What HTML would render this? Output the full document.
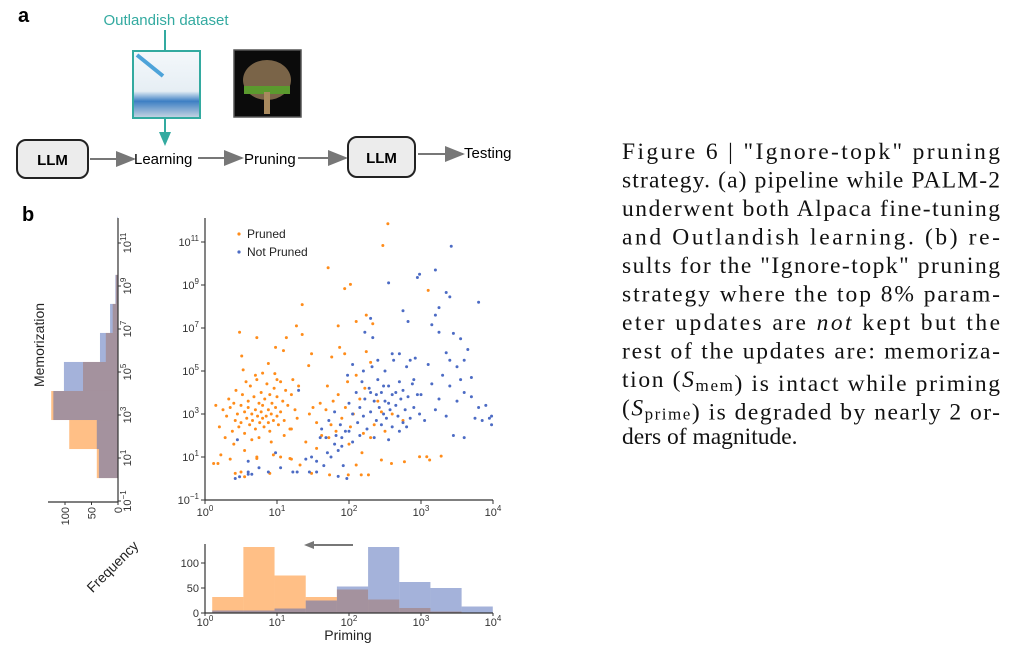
<!DOCTYPE html>
<html><head><meta charset="utf-8"><style>
html,body{margin:0;padding:0;background:#fff;}
svg{display:block;font-family:"Liberation Sans",sans-serif;}
</style></head><body>
<svg id="fig" width="1024" height="650" viewBox="0 0 1024 650" xmlns="http://www.w3.org/2000/svg">
<defs>
<marker id="ah" markerWidth="10" markerHeight="8" refX="9" refY="4" orient="auto"><path d="M0,0 L10,4 L0,8 z" fill="#777"/></marker>
<linearGradient id="beaker" x1="0" y1="0" x2="0" y2="1"><stop offset="0" stop-color="#f4f8fb"/><stop offset="0.6" stop-color="#e6eef4"/><stop offset="0.75" stop-color="#3d7fc4"/><stop offset="1" stop-color="#c9d6e2"/></linearGradient>
</defs>
<g>
<text x="18" y="22" font-size="20" font-weight="bold">a</text>
<text x="166" y="25" font-size="15" fill="#33aaa0" text-anchor="middle">Outlandish dataset</text>
<line x1="165" y1="30" x2="165" y2="51" stroke="#33aaa0" stroke-width="2"/>
<rect x="133" y="51" width="67" height="67" fill="url(#beaker)" stroke="#33aaa0" stroke-width="2"/>
<line x1="137" y1="55" x2="163" y2="76" stroke="#4da3d9" stroke-width="4"/>
<line x1="165" y1="118" x2="165" y2="134" stroke="#33aaa0" stroke-width="2"/>
<path d="M159,132 L171,132 L165,146 z" fill="#33aaa0"/>
<rect x="234" y="50" width="67" height="67" fill="#0b0b0b" stroke="#555" stroke-width="1.5"/>
<ellipse cx="267" cy="80" rx="24" ry="20" fill="#7a6448"/>
<rect x="244" y="86" width="46" height="8" fill="#5b9a2e"/>
<rect x="264" y="92" width="6" height="22" fill="#a98a5e"/>
<rect x="17" y="140" width="71" height="38" rx="9" fill="#ececec" stroke="#222" stroke-width="2"/>
<text x="52.5" y="165" font-size="15" font-weight="bold" text-anchor="middle">LLM</text>
<line x1="90" y1="159" x2="134" y2="159" stroke="#777" stroke-width="2" marker-end="url(#ah)"/>
<text x="134" y="164" font-size="15">Learning</text>
<line x1="198" y1="158" x2="242" y2="158" stroke="#777" stroke-width="2" marker-end="url(#ah)"/>
<text x="244" y="164" font-size="15">Pruning</text>
<line x1="298" y1="158" x2="346" y2="158" stroke="#777" stroke-width="2" marker-end="url(#ah)"/>
<rect x="348" y="137" width="67" height="40" rx="9" fill="#ececec" stroke="#222" stroke-width="2"/>
<text x="381.5" y="163" font-size="15" font-weight="bold" text-anchor="middle">LLM</text>
<line x1="418" y1="154" x2="463" y2="154" stroke="#777" stroke-width="2" marker-end="url(#ah)"/>
<text x="464" y="158" font-size="15">Testing</text>
</g>
<text x="22" y="221" font-size="20" font-weight="bold">b</text>
<g id="charts"></g>
<g font-family="'Liberation Serif',serif" font-size="23.5" fill="#111" id="caption"></g>
</svg>
<script>
const memBinStart = 0.02, memBinWidth = 1.35;
const memPruned =    [40, 92, 126, 66, 23, 10, 4, 1, 0];
const memNotPruned = [36, 40, 122, 102, 34, 15, 5, 1, 1];
const primeBinStart = 0.1, primeBinWidth = 0.433;
const primePruned =    [32, 132, 75, 32, 47, 27, 10, 3, 0];
const primeNotPruned = [5, 5, 9, 25, 53, 132, 62, 50, 13];
const scatterXTicks = [0,1,2,3,4];
const scatterYTicks = [-1,1,3,5,7,9,11];
const histCountTicks = [0,50,100];
const prunedPts = [[2.54,11.85],[2.47,10.84],[1.71,9.8],[1.94,8.83],[2.02,9.03],[1.35,8.09],[3.10,8.75],[1.27,7.1],[0.48,6.8],[0.72,6.55],[1.13,6.55],[1.35,6.7],[1.85,7.1],[2.1,7.3],[2.24,7.6],[2.33,7.2],[0.51,5.7],[0.98,6.1],[1.09,5.95],[1.48,5.8],[1.76,5.65],[1.87,6.1],[1.94,5.8],[2.24,5.9],[1.44,5.25],[0.53,5.05],[0.88,5.35],[0.97,4.88],
[0.25,3.2],[0.3,2.9],[0.35,3.3],[0.38,2.2],[0.4,3.5],[0.42,2.7],[0.45,3.0],[0.47,2.4],[0.5,3.4],[0.5,2.6],[0.52,3.9],[0.55,3.1],[0.55,2.1],[0.58,2.8],[0.6,3.6],[0.6,3.3],[0.62,2.5],[0.63,4.3],[0.65,3.0],[0.66,2.7],[0.68,3.8],[0.7,3.2],[0.7,2.3],[0.72,4.6],[0.73,2.9],[0.75,3.5],[0.76,2.6],[0.78,3.1],[0.78,4.0],[0.8,2.8],[0.8,3.4],[0.82,2.4],[0.83,3.7],[0.85,2.9],[0.86,4.4],[0.88,3.2],[0.88,2.6],[0.9,3.9],[0.9,2.2],[0.92,3.0],[0.93,3.5],[0.95,2.7],[0.96,4.2],[0.98,3.3],[1.0,2.9],[1.0,3.8],[1.02,2.5],[1.05,4.5],[1.05,3.1],[1.08,3.6],[1.1,2.7],[1.12,4.1],[1.15,3.4],[1.18,2.3],[1.2,3.9],[1.22,4.6],[1.25,3.2],[1.28,2.8],[1.3,4.3],[0.2,2.4],[0.15,3.4],[0.28,1.9],[0.33,3.7],[0.43,4.1],[0.57,4.5],[0.65,1.8],[0.7,4.8],[0.75,1.9],[0.8,4.9],[0.92,1.7],[1.0,4.6],[1.1,2.0],[1.2,2.3],[0.4,1.6],[0.55,1.3],[0.35,0.9],[0.22,1.1],[0.12,0.7],[0.5,0.3],[0.95,1.1],[0.72,1.0],[1.05,1.0],[1.2,0.9],
[0.18,0.7],[0.42,0.24],[0.55,0.08],[0.72,0.93],[0.9,0.24],[1.18,0.93],[1.32,0.63],[1.48,0.24],[1.73,0.17],[1.99,0.17],[2.1,0.63],[2.17,0.17],[2.27,0.17],[2.45,0.86],[2.59,0.7],[2.77,0.78],[2.98,1.01],[3.08,1.01],[3.12,0.86],[3.28,1.04],
[1.45,3.0],[1.5,3.3],[1.55,2.6],[1.6,3.5],[1.62,2.0],[1.68,3.2],[1.7,4.3],[1.75,2.5],[1.78,3.6],[1.82,2.2],[1.85,3.9],[1.9,2.8],[1.95,3.3],[1.98,4.5],[2.02,2.4],[2.06,3.0],[2.1,4.8],[2.15,3.7],[2.2,2.1],[2.22,4.2],[2.3,5.4],[2.35,2.5],[2.4,3.6],[2.5,2.2],[2.6,3.0],[2.75,2.7],[1.4,1.7],[1.55,1.4],[1.72,1.9],[2.0,1.6],[2.18,1.2],[2.3,1.9],[2.45,3.1]];
const notPrunedPts = [[3.42,10.8],[3.2,9.7],[2.95,9.35],[2.98,9.5],[2.55,9.1],[3.35,8.65],[3.4,8.45],[3.8,8.2],[2.75,7.8],[3.25,7.95],[3.2,7.6],[2.82,7.3],[3.15,7.15],[3.25,6.8],[3.45,6.75],[3.55,6.5],[3.65,6.0],[3.35,5.85],[2.3,7.45],[2.22,6.8],[2.33,6.55],
[3.5,5.2],[3.6,5.5],[3.7,4.7],[3.4,4.3],[3.6,4.0],[3.8,3.3],[3.9,3.4],[3.95,2.8],[3.98,2.5],[3.98,2.9],[3.85,2.7],[3.75,2.8],[3.5,3.6],[3.45,2.0],[3.6,1.9],[3.3,4.8],[3.1,5.3],[3.0,3.9],[3.15,4.4],[3.25,3.7],[3.05,2.7],[3.4,5.5],[3.55,4.6],[3.7,3.8],[3.2,3.2],[3.35,2.9],
[2.0,3.5],[2.05,3.0],[2.1,4.0],[2.12,2.6],[2.15,3.3],[2.18,4.5],[2.2,2.9],[2.22,3.7],[2.25,2.3],[2.28,4.2],[2.3,3.1],[2.32,5.2],[2.35,3.6],[2.38,2.7],[2.4,4.6],[2.42,3.3],[2.45,2.5],[2.45,4.0],[2.48,3.0],[2.5,5.0],[2.5,3.6],[2.52,2.8],[2.55,4.3],[2.57,3.2],[2.6,2.4],[2.6,3.9],[2.62,5.5],[2.65,3.4],[2.68,2.9],[2.7,4.5],[2.72,3.7],[2.75,2.6],[2.75,4.1],[2.78,3.2],[2.8,5.2],[2.82,3.8],[2.85,2.8],[2.88,4.4],[2.9,3.3],[2.92,5.6],[2.95,3.9],[2.98,3.0],[1.95,2.2],[1.98,4.8],[2.05,5.3],[2.15,2.0],[2.35,1.9],[2.55,1.8],[2.6,5.8],[2.4,5.5],[2.2,5.0],[2.7,5.8],[2.85,5.5],[2.3,4.0],[2.55,3.5],[2.65,4.0],[2.48,4.3],[2.38,3.9],[2.9,4.6],[2.8,2.4],[2.7,2.2],
[0.42,0.0],[0.48,0.08],[0.6,0.2],[0.6,0.3],[0.65,0.2],[0.45,1.8],[0.6,0.8],[0.75,0.5],[0.88,0.3],[0.98,1.2],[1.05,0.5],[1.22,0.3],[1.28,0.3],[1.45,0.3],[1.48,1.0],[1.55,0.8],[1.6,1.9],[1.65,0.6],[1.7,1.2],[1.75,1.0],[1.8,1.6],[1.82,2.0],[1.85,1.3],[1.9,1.5],[1.92,0.6],[1.97,0.0],[1.85,0.1],[1.55,0.3],[1.62,2.3],[1.68,1.9],[1.72,2.7],[1.8,3.1],[1.88,2.5],[1.9,1.9],[2.0,2.2],[2.05,1.7],[1.3,4.1],[1.4,0.9]];
const captionLines = ['Figure 6 | "Ignore-topk" pruning','strategy. (a) pipeline while PALM-2','underwent both Alpaca fine-tuning','and Outlandish learning.  (b) re-','sults for the "Ignore-topk" pruning','strategy where the top 8% param-','eter updates are <not> kept but the','rest of the updates are: memoriza-','tion (𝒮mem) is intact while priming','(𝒮prime) is degraded by nearly 2 or-','ders of magnitude.'];

const sx = l => 205 + l*72;
const sy = l => 500 - (l+1)*21.5;
const hy = c => 613 - c*0.5;
const hx = c => 118 - c*0.53;
const ORANGE='#ff7f0e', BLUE='#4a66b5';
const NS='http://www.w3.org/2000/svg';
const root=document.getElementById('charts');
function mk(tag, attrs, parent){const e=document.createElementNS(NS,tag);for(const k in attrs)e.setAttribute(k,attrs[k]);(parent||root).appendChild(e);return e;}
function pow10(parent,x,y,k,anchor,rot){
  const t=mk('text',{x:x,y:y,'font-size':11,'text-anchor':anchor,fill:'#333'},parent);
  if(rot)t.setAttribute('transform',rot);
  t.appendChild(document.createTextNode('10'));
  const s=mk('tspan',{'font-size':8,dy:-5},t);s.textContent=String(k).replace('-','−');
  return t;
}
const sc=mk('g',{});


const ax=mk('path',{d:`M${sx(0)},218 L${sx(0)},${sy(-1)} L${sx(4)},${sy(-1)}`,stroke:'#333',fill:'none','stroke-width':1.2},sc);


scatterXTicks.forEach(k=>{
  mk('line',{x1:sx(k),x2:sx(k),y1:sy(-1),y2:sy(-1)+4,stroke:'#333'},sc);
  const t=pow10(sc,sx(k),sy(-1)+16,k,'middle');
  
  
});
scatterYTicks.forEach(k=>{
  mk('line',{x1:sx(0)-4,x2:sx(0),y1:sy(k),y2:sy(k),stroke:'#333'},sc);
  const t=pow10(sc,sx(0)-6,sy(k)+4,k,'end');
  
  
});
function drawPts(pts,col,name){
  pts.forEach(p=>{
    const c=mk('circle',{cx:sx(p[0]),cy:sy(p[1]),r:1.5,fill:col},sc);
    
    
  });
}
drawPts(prunedPts,'#ff8c1a','pruned-point');
drawPts(notPrunedPts,'#4c6bc4','not-pruned-point');
const lg=mk('g',{},sc);


mk('circle',{cx:239,cy:234,r:1.6,fill:'#ff8c1a'},lg);
const l1=mk('text',{x:247,y:238,'font-size':12,fill:'#222'},lg);l1.textContent='Pruned';


mk('circle',{cx:239,cy:252,r:1.6,fill:'#4c6bc4'},lg);
const l2=mk('text',{x:247,y:256,'font-size':12,fill:'#222'},lg);l2.textContent='Not Pruned';



const bh=mk('g',{});


function primeBars(arr,col,name){
  arr.forEach((c,i)=>{
    const x0=sx(primeBinStart+i*primeBinWidth), x1=sx(primeBinStart+(i+1)*primeBinWidth);
    const r=mk('rect',{x:x0,y:hy(c),width:x1-x0,height:hy(0)-hy(c),fill:col,'fill-opacity':0.5},bh);
    
    
  });
}
primeBars(primePruned,ORANGE,'priming-bar-pruned');
primeBars(primeNotPruned,BLUE,'priming-bar-not-pruned');
mk('path',{d:`M${sx(0)},544 L${sx(0)},${hy(0)} L${sx(4)},${hy(0)}`,stroke:'#333',fill:'none','stroke-width':1.2},bh);
histCountTicks.forEach(c=>{
  mk('line',{x1:sx(0)-4,x2:sx(0),y1:hy(c),y2:hy(c),stroke:'#333'},bh);
  const t=mk('text',{x:sx(0)-6,y:hy(c)+4,'font-size':11,'text-anchor':'end',fill:'#333'},bh);t.textContent=c;
  
  
});
scatterXTicks.forEach(k=>{
  mk('line',{x1:sx(k),x2:sx(k),y1:hy(0),y2:hy(0)+3,stroke:'#333'},bh);
  const t=pow10(bh,sx(k),hy(0)+13,k,'middle');
  
  
});
const pl=mk('text',{x:348,y:640,'font-size':14,'text-anchor':'middle',fill:'#222'},bh);pl.textContent='Priming';


const arr=mk('line',{x1:353,y1:545,x2:308,y2:545,stroke:'#777','stroke-width':2},bh);


mk('path',{d:'M304,545 L314,541 L314,549 z',fill:'#777'},bh);

const lh=mk('g',{});


function memBars(arr,col,name){
  arr.forEach((c,i)=>{
    const y0=sy(memBinStart+(i+1)*memBinWidth), y1=sy(memBinStart+i*memBinWidth);
    const r=mk('rect',{x:hx(c),y:y0,width:hx(0)-hx(c),height:y1-y0,fill:col,'fill-opacity':0.5},lh);
    
    
  });
}
memBars(memPruned,ORANGE,'memorization-bar-pruned');
memBars(memNotPruned,BLUE,'memorization-bar-not-pruned');
mk('path',{d:`M118,218 L118,502 L48,502`,stroke:'#333',fill:'none','stroke-width':1.2},lh);
scatterYTicks.forEach(k=>{
  const y=sy(k)+1;
  mk('line',{x1:118,x2:121,y1:y,y2:y,stroke:'#333'},lh);
  const t=pow10(lh,131,y,k,'middle',`rotate(-90 131 ${y})`);
  
  
});
histCountTicks.forEach(c=>{
  mk('line',{x1:hx(c),x2:hx(c),y1:502,y2:505,stroke:'#333'},lh);
  const t=mk('text',{x:hx(c)+4,y:507,'font-size':11,'text-anchor':'end',fill:'#333',transform:`rotate(-90 ${hx(c)+4} 507)`},lh);t.textContent=c;
  
  
});
const ml=mk('text',{x:44,y:345,'font-size':14,'text-anchor':'middle',fill:'#222',transform:'rotate(-90 44 345)'},lh);ml.textContent='Memorization';


const fl=mk('text',{x:116,y:570,'font-size':14,'text-anchor':'middle',fill:'#222',transform:'rotate(-45 116 570)'},lh);fl.textContent='Frequency';



const cap=document.getElementById('caption');
captionLines.forEach((ln,i)=>{
  const y=159+i*28.5;
  const t=mk('text',{x:622,y:y},cap);
  if(i<captionLines.length-1){t.setAttribute('textLength',378);t.setAttribute('lengthAdjust','spacing');}
  
  
  const parts=ln.split(/(<not>|𝒮mem|𝒮prime)/);
  parts.forEach(p=>{
    if(p==='<not>'){const s=mk('tspan',{'font-style':'italic'},t);s.textContent='not';}
    else if(p==='𝒮mem'||p==='𝒮prime'){const s=mk('tspan',{'font-style':'italic'},t);s.textContent='S';const b=mk('tspan',{'font-size':17,dy:4},t);b.textContent=p.slice(2);const r=mk('tspan',{dy:-4},t);r.textContent='';}
    else if(p){t.appendChild(document.createTextNode(p));}
  });
});
</script>
</body></html>
